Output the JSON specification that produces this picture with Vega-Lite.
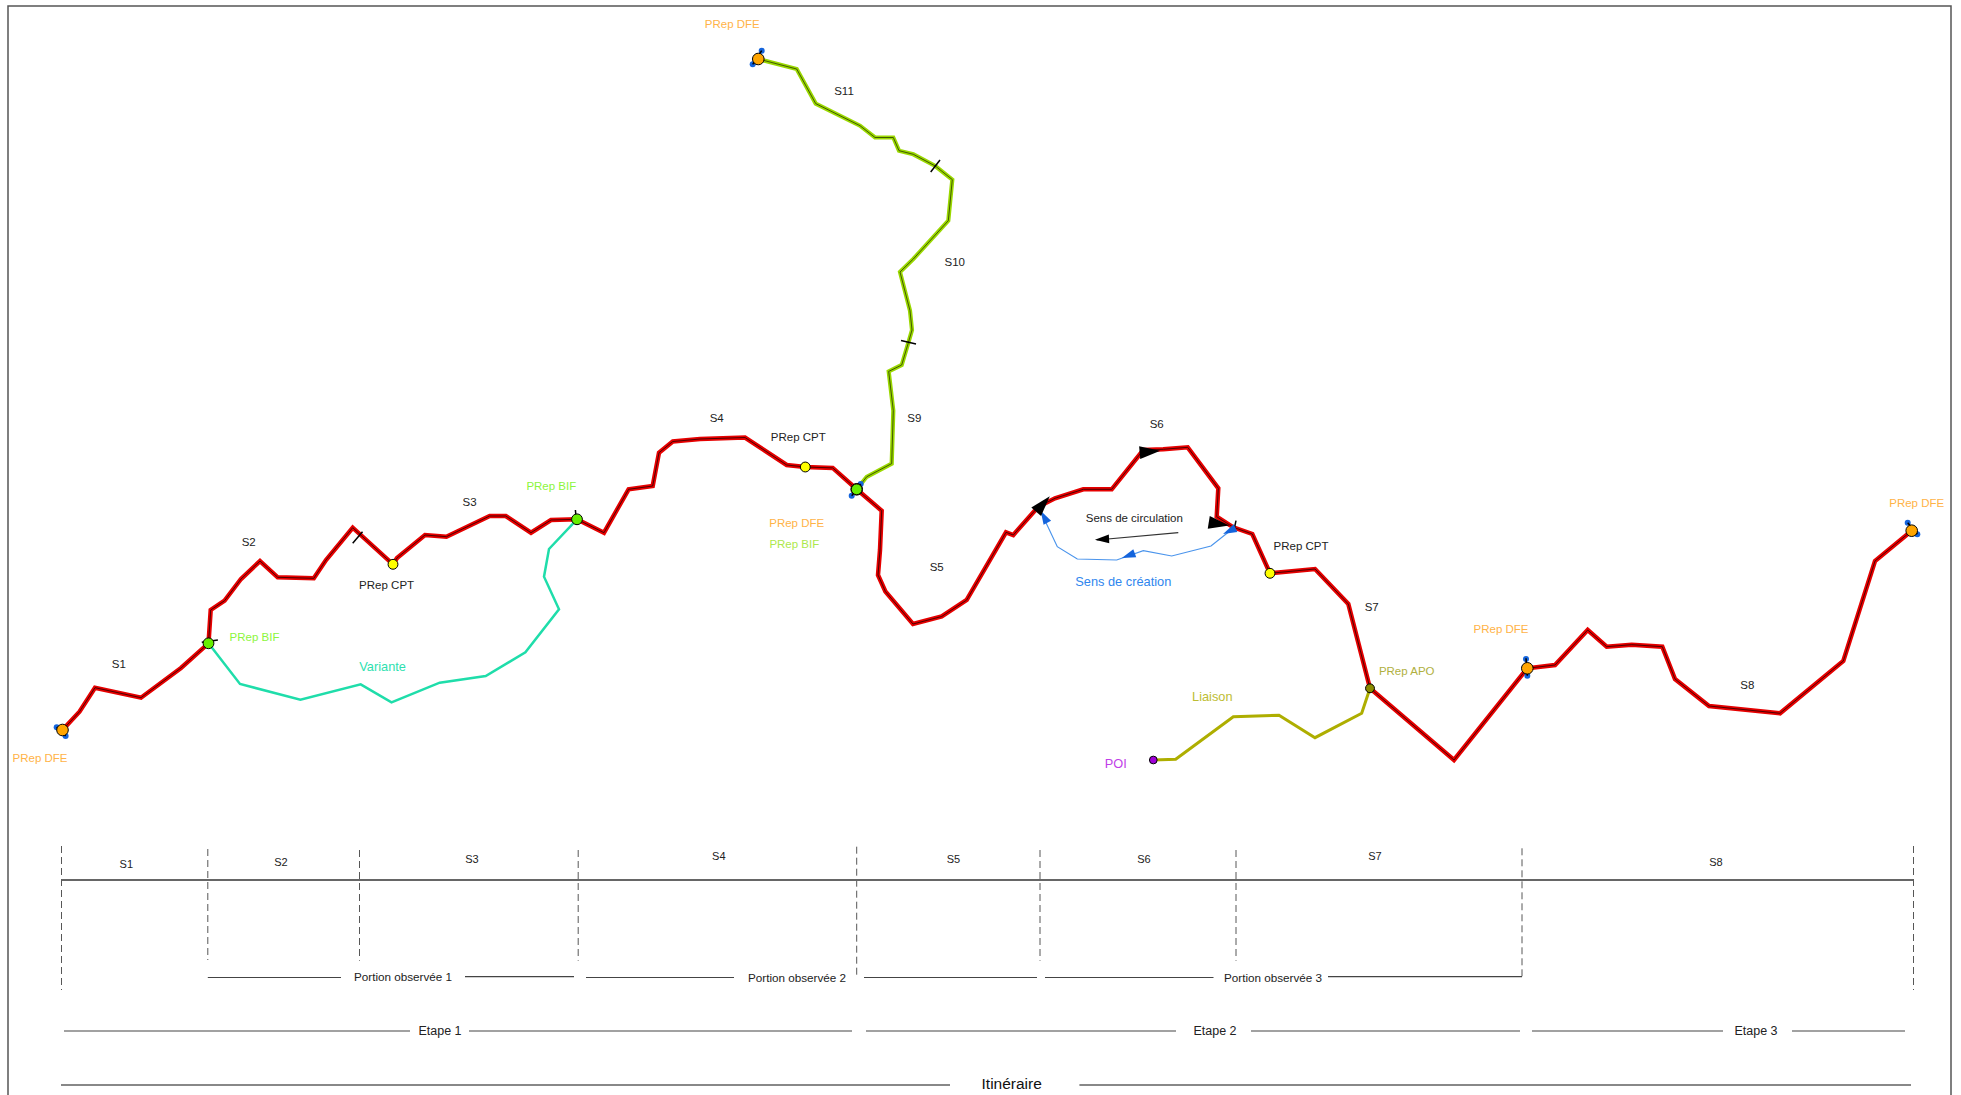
{"$schema":"https://vega.github.io/schema/vega-lite/v6.json","width":1961,"height":1095,"padding":0,"autosize":{"type":"none"},"background":"white","view":{"stroke":null},"config":{"text":{"font":"Liberation Sans"}},
"datasets":{
"route":[{"seq":0,"x":62.5,"y":730},{"seq":1,"x":79.5,"y":711.7},{"seq":2,"x":95,"y":687.7},{"seq":3,"x":141,"y":697.7},{"seq":4,"x":181,"y":668},{"seq":5,"x":208.5,"y":643.3},{"seq":6,"x":210.7,"y":610},{"seq":7,"x":224.6,"y":600.7},{"seq":8,"x":241,"y":579},{"seq":9,"x":260,"y":561},{"seq":10,"x":277.7,"y":577.3},{"seq":11,"x":313.8,"y":578.3},{"seq":12,"x":326,"y":560},{"seq":13,"x":352.7,"y":527.7},{"seq":14,"x":393,"y":564.3},{"seq":15,"x":397,"y":558},{"seq":16,"x":425,"y":535},{"seq":17,"x":446.4,"y":536.7},{"seq":18,"x":489.7,"y":516},{"seq":19,"x":505.8,"y":516},{"seq":20,"x":531,"y":532.7},{"seq":21,"x":551,"y":520},{"seq":22,"x":577,"y":519.3},{"seq":23,"x":604,"y":532.7},{"seq":24,"x":628.6,"y":489.3},{"seq":25,"x":652.7,"y":486},{"seq":26,"x":659,"y":452.7},{"seq":27,"x":672.8,"y":441.5},{"seq":28,"x":700,"y":439},{"seq":29,"x":745,"y":437.5},{"seq":30,"x":786.7,"y":465},{"seq":31,"x":805.3,"y":467},{"seq":32,"x":832.7,"y":467.9},{"seq":33,"x":856.7,"y":489.3},{"seq":34,"x":881.7,"y":510.7},{"seq":35,"x":880,"y":550},{"seq":36,"x":878,"y":575},{"seq":37,"x":885.4,"y":591.5},{"seq":38,"x":913,"y":624},{"seq":39,"x":941.7,"y":616.5},{"seq":40,"x":966.7,"y":600},{"seq":41,"x":1006,"y":532.3},{"seq":42,"x":1013.3,"y":535},{"seq":43,"x":1038.3,"y":506.7},{"seq":44,"x":1055,"y":498.3},{"seq":45,"x":1083.3,"y":489.3},{"seq":46,"x":1111.7,"y":489.3},{"seq":47,"x":1143.3,"y":450},{"seq":48,"x":1163.3,"y":449.3},{"seq":49,"x":1187.7,"y":447.3},{"seq":50,"x":1218.3,"y":488.3},{"seq":51,"x":1216.7,"y":516.7},{"seq":52,"x":1233.3,"y":527.3},{"seq":53,"x":1252.3,"y":534},{"seq":54,"x":1270,"y":573.3},{"seq":55,"x":1315,"y":569},{"seq":56,"x":1348.3,"y":604},{"seq":57,"x":1370,"y":688.3},{"seq":58,"x":1454,"y":760},{"seq":59,"x":1527.3,"y":668.3},{"seq":60,"x":1555,"y":665},{"seq":61,"x":1587.7,"y":630},{"seq":62,"x":1606.7,"y":646.7},{"seq":63,"x":1631.7,"y":644.7},{"seq":64,"x":1662.3,"y":646.7},{"seq":65,"x":1675,"y":679},{"seq":66,"x":1709,"y":706},{"seq":67,"x":1780,"y":713.3},{"seq":68,"x":1843.3,"y":661},{"seq":69,"x":1875,"y":561},{"seq":70,"x":1911.7,"y":530.7}],
"branch":[{"seq":0,"x":758.3,"y":59},{"seq":1,"x":796.7,"y":69},{"seq":2,"x":815.7,"y":103.6},{"seq":3,"x":860,"y":125.7},{"seq":4,"x":875,"y":137.5},{"seq":5,"x":893.3,"y":137.5},{"seq":6,"x":899,"y":150.7},{"seq":7,"x":913.3,"y":154.3},{"seq":8,"x":935.3,"y":166},{"seq":9,"x":952.3,"y":179.6},{"seq":10,"x":948.3,"y":220.7},{"seq":11,"x":913.3,"y":259},{"seq":12,"x":900,"y":272},{"seq":13,"x":910,"y":310.7},{"seq":14,"x":912,"y":330},{"seq":15,"x":908.3,"y":342.9},{"seq":16,"x":901.7,"y":365},{"seq":17,"x":888.7,"y":371.4},{"seq":18,"x":893.3,"y":410.7},{"seq":19,"x":891.7,"y":463.6},{"seq":20,"x":866.7,"y":476.8},{"seq":21,"x":856.7,"y":489.3}],
"thin":[
{"kind":"Variante","seq":0,"x":208.5,"y":643.3},{"kind":"Variante","seq":1,"x":240,"y":684},{"kind":"Variante","seq":2,"x":300.4,"y":699.7},{"kind":"Variante","seq":3,"x":360.7,"y":684.3},{"kind":"Variante","seq":4,"x":391.5,"y":702.3},{"kind":"Variante","seq":5,"x":439.7,"y":682.7},{"kind":"Variante","seq":6,"x":485.7,"y":676},{"kind":"Variante","seq":7,"x":525.4,"y":652.3},{"kind":"Variante","seq":8,"x":559,"y":609.3},{"kind":"Variante","seq":9,"x":544,"y":576.7},{"kind":"Variante","seq":10,"x":549,"y":549},{"kind":"Variante","seq":11,"x":577,"y":519.3},
{"kind":"Liaison","seq":0,"x":1153.3,"y":760},{"kind":"Liaison","seq":1,"x":1175.7,"y":759.3},{"kind":"Liaison","seq":2,"x":1233.3,"y":716.7},{"kind":"Liaison","seq":3,"x":1279,"y":715.3},{"kind":"Liaison","seq":4,"x":1315,"y":737.7},{"kind":"Liaison","seq":5,"x":1361.7,"y":713.3},{"kind":"Liaison","seq":6,"x":1370,"y":688.3},
{"kind":"Creation","seq":0,"x":1233.3,"y":528.3},{"kind":"Creation","seq":1,"x":1211,"y":546},{"kind":"Creation","seq":2,"x":1171.7,"y":556},{"kind":"Creation","seq":3,"x":1143.3,"y":550.7},{"kind":"Creation","seq":4,"x":1116.7,"y":560},{"kind":"Creation","seq":5,"x":1077.3,"y":559},{"kind":"Creation","seq":6,"x":1057.3,"y":546.7},{"kind":"Creation","seq":7,"x":1040,"y":510},
{"kind":"Circulation","seq":0,"x":1178.3,"y":532.7},{"kind":"Circulation","seq":1,"x":1096.7,"y":540}],
"frame":[{"seq":0,"x":8,"y":1095},{"seq":1,"x":8,"y":6},{"seq":2,"x":1951,"y":6},{"seq":3,"x":1951,"y":1095}],
"ticks":[{"x":201.8,"y":642.3,"x2":217.9,"y2":640},{"x":352.7,"y":543.3,"x2":362.5,"y2":531.7},{"x":575.4,"y":510,"x2":576.8,"y2":525},{"x":930.7,"y":172,"x2":940,"y2":160},{"x":901,"y":340.4,"x2":916,"y2":344},{"x":1236,"y":520.7,"x2":1234,"y2":530},{"x":56.7,"y":727.3,"x2":65.6,"y2":736},{"x":761.7,"y":50.7,"x2":752.7,"y2":64.3},{"x":860.7,"y":484,"x2":851.7,"y2":495.7},{"x":1526,"y":658.3,"x2":1527.3,"y2":675.7},{"x":1907.7,"y":522.7,"x2":1917.3,"y2":534.3}],
"ends":[{"x":56.7,"y":727.3},{"x":65.6,"y":736},{"x":761.7,"y":50.7},{"x":752.7,"y":64.3},{"x":860.7,"y":484},{"x":851.7,"y":495.7},{"x":1526,"y":659},{"x":1527.3,"y":675.7},{"x":1907.7,"y":522.7},{"x":1917.3,"y":534.3}],
"heads":[{"kind":"large","x":1043,"y":504,"heading":41},{"kind":"large","x":1150,"y":451.7,"heading":85},{"kind":"large","x":1219,"y":524,"heading":99},{"kind":"small","x":1102,"y":539.3,"heading":-93},{"kind":"blue","x":1044,"y":516.7,"heading":-29},{"kind":"blue","x":1128.3,"y":555.7,"heading":-110},{"kind":"blue","x":1229.3,"y":531,"heading":-115}],
"nodes":[{"role":"DFE","x":62.5,"y":730},{"role":"DFE","x":758.3,"y":59},{"role":"DFE","x":1527.3,"y":668.3},{"role":"DFE","x":1911.7,"y":530.7},{"role":"DFE","x":856.7,"y":489.3},{"role":"BIF","x":856.7,"y":489.3},{"role":"BIF","x":208.5,"y":643.3},{"role":"BIF","x":577,"y":519.3},{"role":"CPT","x":393,"y":564.3},{"role":"CPT","x":805.3,"y":467},{"role":"CPT","x":1270,"y":573.3},{"role":"APO","x":1370,"y":688.3},{"role":"POI","x":1153.3,"y":760}],
"dashes":[{"x":61.5,"y":846,"y2":990},{"x":207.8,"y":849,"y2":960},{"x":359.5,"y":850,"y2":960.7},{"x":578.2,"y":850,"y2":960.7},{"x":856.7,"y":846.7,"y2":975},{"x":1040,"y":850,"y2":960.7},{"x":1236,"y":850,"y2":960.7},{"x":1522,"y":848.3,"y2":976.7},{"x":1913.5,"y":846,"y2":990}],
"bars":[{"level":"Section","x":61.5,"x2":1913.5,"y":880},
{"level":"Portion","x":207.8,"x2":341,"y":977.5},{"level":"Portion","x":465,"x2":574,"y":976.7},{"level":"Portion","x":586,"x2":734,"y":977.5},{"level":"Portion","x":864,"x2":1037,"y":977.5},{"level":"Portion","x":1045,"x2":1213.5,"y":977.5},{"level":"Portion","x":1328,"x2":1522,"y":976.7},
{"level":"Etape","x":64,"x2":410,"y":1031},{"level":"Etape","x":469,"x2":852,"y":1031},{"level":"Etape","x":866,"x2":1176,"y":1031},{"level":"Etape","x":1251,"x2":1520,"y":1031},{"level":"Etape","x":1532,"x2":1723,"y":1031},{"level":"Etape","x":1792,"x2":1905,"y":1031},
{"level":"Itineraire","x":61,"x2":950,"y":1085},{"level":"Itineraire","x":1079.4,"x2":1911,"y":1085}],
"labels":[
{"role":"Text","label":"S1","x":118.8,"y":665},{"role":"Text","label":"S2","x":248.7,"y":542.7},{"role":"Text","label":"S3","x":469.6,"y":503},{"role":"Text","label":"S4","x":716.7,"y":418.6},{"role":"Text","label":"S5","x":936.7,"y":567.8},{"role":"Text","label":"S6","x":1156.7,"y":425},{"role":"Text","label":"S7","x":1371.7,"y":608},{"role":"Text","label":"S8","x":1747.3,"y":686},{"role":"Text","label":"S9","x":914.3,"y":418.6},{"role":"Text","label":"S10","x":954.7,"y":262.5},{"role":"Text","label":"S11","x":844,"y":91.8},
{"role":"Text","label":"PRep CPT","x":386.6,"y":586},{"role":"Text","label":"PRep CPT","x":798.3,"y":438},{"role":"Text","label":"PRep CPT","x":1301,"y":547.3},{"role":"Text","label":"Sens de circulation","x":1134.3,"y":518.7},
{"role":"DFE","label":"PRep DFE","x":40,"y":759.3},{"role":"DFE","label":"PRep DFE","x":732.3,"y":25},{"role":"DFE","label":"PRep DFE","x":796.7,"y":523.6},{"role":"DFE","label":"PRep DFE","x":1501,"y":630},{"role":"DFE","label":"PRep DFE","x":1916.7,"y":504},
{"role":"BIF","label":"PRep BIF","x":254.5,"y":638},{"role":"BIF","label":"PRep BIF","x":551.3,"y":487},{"role":"BIF2","label":"PRep BIF","x":794.3,"y":544.6},
{"role":"APO","label":"PRep APO","x":1406.7,"y":672.3}],
"callouts":[{"role":"Variante","label":"Variante","x":382.6,"y":666.7},{"role":"Creation","label":"Sens de création","x":1123.3,"y":582.3},{"role":"Liaison","label":"Liaison","x":1212.3,"y":696.7},{"role":"POI","label":"POI","x":1115.7,"y":764.3}],
"scheme":[{"level":"Section","label":"S1","x":126.3,"y":865.3},{"level":"Section","label":"S2","x":281,"y":863},{"level":"Section","label":"S3","x":472,"y":860.3},{"level":"Section","label":"S4","x":718.8,"y":857},{"level":"Section","label":"S5","x":953.4,"y":860.3},{"level":"Section","label":"S6","x":1144,"y":859.7},{"level":"Section","label":"S7","x":1375,"y":857},{"level":"Section","label":"S8","x":1716,"y":863},
{"level":"Portion","label":"Portion observée 1","x":403,"y":977},{"level":"Portion","label":"Portion observée 2","x":797,"y":977.7},{"level":"Portion","label":"Portion observée 3","x":1273,"y":978},
{"level":"Etape","label":"Etape 1","x":440,"y":1030.7},{"level":"Etape","label":"Etape 2","x":1215,"y":1030.7},{"level":"Etape","label":"Etape 3","x":1756,"y":1030.7},
{"level":"Itineraire","label":"Itinéraire","x":1011.7,"y":1084}]
},
"encoding":{"x":{"field":"x","type":"quantitative","scale":{"domain":[0,1961],"nice":false,"zero":false},"axis":null},"y":{"field":"y","type":"quantitative","scale":{"domain":[1095,0],"nice":false,"zero":false},"axis":null}},
"layer":[
{"data":{"name":"frame"},"mark":{"type":"line","color":"#555555","strokeWidth":1.5,"clip":false},"encoding":{"order":{"field":"seq"}}},
{"data":{"name":"thin"},"transform":[{"filter":"datum.kind==='Variante'"}],"mark":{"type":"line","color":"#1FDDAA","strokeWidth":2.5},"encoding":{"order":{"field":"seq"}}},
{"data":{"name":"thin"},"transform":[{"filter":"datum.kind==='Liaison'"}],"mark":{"type":"line","color":"#AEAE00","strokeWidth":3},"encoding":{"order":{"field":"seq"}}},
{"data":{"name":"thin"},"transform":[{"filter":"datum.kind==='Creation'"}],"mark":{"type":"line","color":"#4A94EC","strokeWidth":1.2},"encoding":{"order":{"field":"seq"}}},
{"data":{"name":"thin"},"transform":[{"filter":"datum.kind==='Circulation'"}],"mark":{"type":"line","color":"#333333","strokeWidth":1.2},"encoding":{"order":{"field":"seq"}}},
{"data":{"name":"branch"},"mark":{"type":"line","color":"#9AD800","strokeWidth":4.2,"strokeJoin":"miter"},"encoding":{"order":{"field":"seq"}}},
{"data":{"name":"branch"},"mark":{"type":"line","color":"#2A3A00","strokeWidth":0.8},"encoding":{"order":{"field":"seq"}}},
{"data":{"name":"route"},"mark":{"type":"line","color":"#E60000","strokeWidth":4.5,"strokeJoin":"miter"},"encoding":{"order":{"field":"seq"}}},
{"data":{"name":"route"},"mark":{"type":"line","color":"#3A0000","strokeWidth":0.9},"encoding":{"order":{"field":"seq"}}},
{"data":{"name":"ends"},"mark":{"type":"point","filled":true,"size":36,"color":"#1464DC","opacity":1}},
{"data":{"name":"ticks"},"mark":{"type":"rule","color":"#000000","strokeWidth":1.5},"encoding":{"x2":{"field":"x2"},"y2":{"field":"y2"}}},
{"data":{"name":"heads"},"transform":[{"filter":"datum.kind==='blue'"}],"mark":{"type":"point","filled":true,"shape":"M0,-1L0.62,1L-0.62,1Z","size":190,"color":"#1464DC","opacity":1,"strokeWidth":0},"encoding":{"angle":{"field":"heading","type":"quantitative","scale":null}}},
{"data":{"name":"heads"},"transform":[{"filter":"datum.kind==='small'"}],"mark":{"type":"point","filled":true,"shape":"M0,-1L0.62,1L-0.62,1Z","size":200,"color":"#000000","opacity":1,"strokeWidth":0},"encoding":{"angle":{"field":"heading","type":"quantitative","scale":null}}},
{"data":{"name":"heads"},"transform":[{"filter":"datum.kind==='large'"}],"mark":{"type":"point","filled":true,"shape":"M0,-1L0.62,1L-0.62,1Z","size":430,"color":"#000000","opacity":1,"strokeWidth":0},"encoding":{"angle":{"field":"heading","type":"quantitative","scale":null}}},
{"data":{"name":"nodes"},"mark":{"type":"point","filled":true,"opacity":1,"stroke":"#000000","strokeWidth":1,"shape":"circle"},"encoding":{"fill":{"field":"role","type":"nominal","legend":null,"scale":{"domain":["DFE","BIF","CPT","APO","POI"],"range":["#FFA500","#66EE00","#FFFF00","#8B8B00","#A000D8"]}},"size":{"field":"role","type":"ordinal","legend":null,"scale":{"domain":["DFE","BIF","CPT","APO","POI"],"range":[135,60,85,50,85]}}}},
{"data":{"name":"dashes"},"mark":{"type":"rule","color":"#444444","strokeWidth":0.9,"strokeDash":[7,4]},"encoding":{"y2":{"field":"y2"}}},
{"data":{"name":"bars"},"transform":[{"filter":"datum.level==='Section'"}],"mark":{"type":"rule","color":"#666666","strokeWidth":1.8},"encoding":{"x2":{"field":"x2"}}},
{"data":{"name":"bars"},"transform":[{"filter":"datum.level==='Portion'||datum.level==='Etape'"}],"mark":{"type":"rule","color":"#444444","strokeWidth":1.2},"encoding":{"x2":{"field":"x2"}}},
{"data":{"name":"bars"},"transform":[{"filter":"datum.level==='Itineraire'"}],"mark":{"type":"rule","color":"#888888","strokeWidth":2.2},"encoding":{"x2":{"field":"x2"}}},
{"data":{"name":"labels"},"mark":{"type":"text","font":"Liberation Sans","fontSize":11.5,"align":"center","baseline":"middle"},"encoding":{"text":{"field":"label"},"color":{"field":"role","type":"nominal","legend":null,"scale":{"domain":["Text","DFE","BIF","BIF2","Variante","Creation","APO","Liaison","POI"],"range":["#222222","#FFB347","#8CF53C","#ADE84B","#2EDFB0","#2F86EE","#B0B040","#BDBD33","#BF3FE8"]}}}},
{"data":{"name":"callouts"},"mark":{"type":"text","font":"Liberation Sans","fontSize":12.8,"align":"center","baseline":"middle"},"encoding":{"text":{"field":"label"},"color":{"field":"role","type":"nominal","legend":null,"scale":{"domain":["Text","DFE","BIF","BIF2","Variante","Creation","APO","Liaison","POI"],"range":["#222222","#FFB347","#8CF53C","#ADE84B","#2EDFB0","#2F86EE","#B0B040","#BDBD33","#BF3FE8"]}}}},
{"data":{"name":"scheme"},"transform":[{"filter":"datum.level==='Section'"}],"mark":{"type":"text","font":"Liberation Sans","fontSize":11,"align":"center","baseline":"middle","color":"#222222"},"encoding":{"text":{"field":"label"}}},
{"data":{"name":"scheme"},"transform":[{"filter":"datum.level==='Portion'"}],"mark":{"type":"text","font":"Liberation Sans","fontSize":11.7,"align":"center","baseline":"middle","color":"#222222"},"encoding":{"text":{"field":"label"}}},
{"data":{"name":"scheme"},"transform":[{"filter":"datum.level==='Etape'"}],"mark":{"type":"text","font":"Liberation Sans","fontSize":12.5,"align":"center","baseline":"middle","color":"#222222"},"encoding":{"text":{"field":"label"}}},
{"data":{"name":"scheme"},"transform":[{"filter":"datum.level==='Itineraire'"}],"mark":{"type":"text","font":"Liberation Sans","fontSize":15.5,"align":"center","baseline":"middle","color":"#111111"},"encoding":{"text":{"field":"label"}}}
]}
